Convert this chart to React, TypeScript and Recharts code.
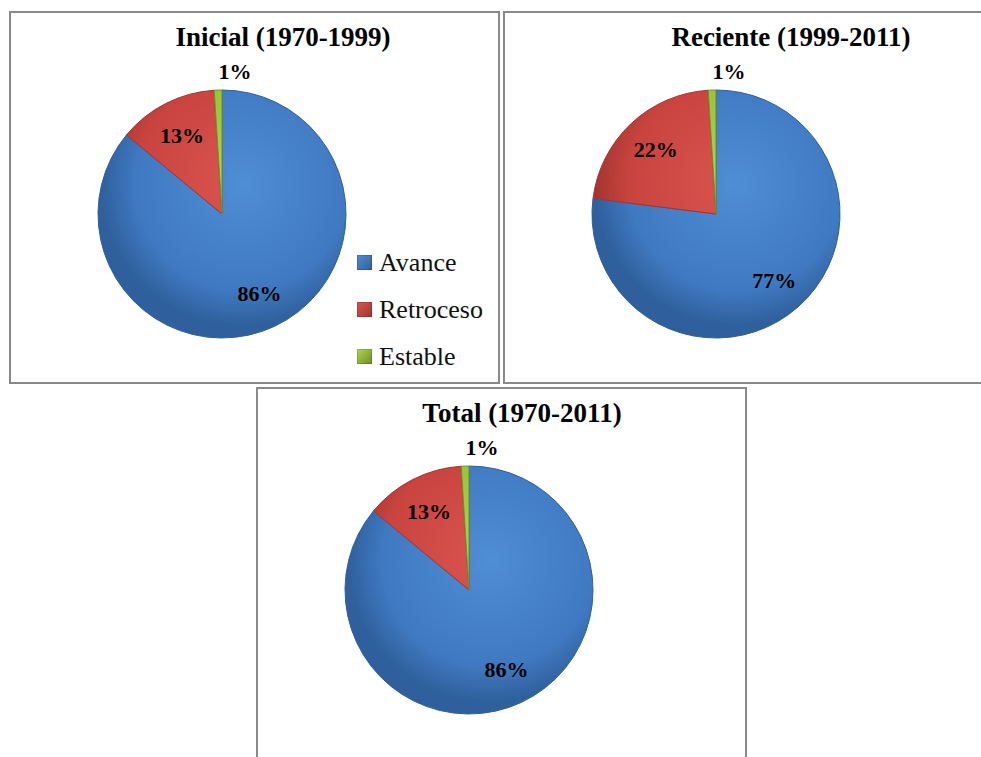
import { PieChart, Pie, Cell, Legend } from "recharts";

const categories = ["Avance", "Retroceso", "Estable"];
const inicialValues = [86, 13, 1];
const recienteValues = [77, 22, 1];
const totalValues = [86, 13, 1];
const titles = ["Inicial (1970-1999)", "Reciente (1999-2011)", "Total (1970-2011)"];

// light / dark pairs for the glossy fills
const shades = [
  { light: "#4f8dd4", mid: "#3f79c1", dark: "#2f5f9c" },
  { light: "#d9554e", mid: "#c9443f", dark: "#a33430" },
  { light: "#b0d64e", mid: "#98c03b", dark: "#6f8f28" },
];

const serif = "Liberation Serif";
const RAD = Math.PI / 180;

const toRows = (values: number[]) =>
  categories.map((name, i) => ({ name, value: values[i] }));

// big slices get the label inside, tiny ones just above the rim
function renderPct(props: any) {
  const { cx, cy, midAngle, outerRadius, value } = props;
  const outside = value < 5;
  const r = outside ? outerRadius + 19 : outerRadius * 0.71;
  const x = cx + r * Math.cos(-midAngle * RAD);
  const y = cy + r * Math.sin(-midAngle * RAD);
  return (
    <text
      x={outside ? x + 1 : x}
      y={y}
      textAnchor={outside ? "start" : "middle"}
      dominantBaseline="central"
      style={{ fontFamily: serif, fontWeight: 700, fontSize: 22 }}
      fill="#000"
    >
      {`${value}%`}
    </text>
  );
}

function LegendBox() {
  return (
    <div style={{ fontFamily: serif, fontSize: 26, color: "#111" }}>
      {categories.map((c, i) => (
        <div key={c} style={{ height: 47, display: "flex", alignItems: "center" }}>
          <span
            style={{
              width: 15,
              height: 15,
              marginRight: 7,
              background: `linear-gradient(135deg, ${shades[i].light}, ${shades[i].dark})`,
              boxShadow: "inset 0 0 0 1px rgba(0,0,0,0.15)",
            }}
          />
          <span>{c}</span>
        </div>
      ))}
    </div>
  );
}

type PanelProps = {
  id: string;
  title: string;
  titleX: number;
  values: number[];
  left: number;
  top: number;
  width: number;
  height: number;
  legend?: boolean;
};

function PiePanel({ id, title, titleX, values, left, top, width, height, legend }: PanelProps) {
  const cx = 211;
  const cy = 201;
  const r = 124;
  return (
    <div
      style={{
        position: "absolute",
        left,
        top,
        width,
        height,
        border: "2px solid #8a8a8a",
        boxSizing: "border-box",
        background: "#fff",
      }}
    >
      <PieChart
        width={width - 4}
        height={height - 4}
        margin={{ top: 0, right: 0, bottom: 0, left: 0 }}
      >
        <defs>
          {shades.map((s, i) => (
            <radialGradient
              key={i}
              id={`${id}-g${i}`}
              gradientUnits="userSpaceOnUse"
              cx={cx + 20}
              cy={cy - 30}
              r={r * 1.15}
            >
              <stop offset="0%" stopColor={s.light} />
              <stop offset="75%" stopColor={s.mid} />
              <stop offset="100%" stopColor={s.dark} />
            </radialGradient>
          ))}
        </defs>
        <text
          x={titleX}
          y={33}
          textAnchor="middle"
          style={{ fontFamily: serif, fontWeight: 700, fontSize: 27 }}
          fill="#000"
        >
          {title}
        </text>
        <Pie
          data={toRows(values)}
          dataKey="value"
          nameKey="name"
          cx={cx}
          cy={cy}
          outerRadius={r}
          startAngle={90}
          endAngle={-270}
          label={renderPct}
          labelLine={false}
          isAnimationActive={false}
        >
          {shades.map((s, i) => (
            <Cell key={i} fill={`url(#${id}-g${i})`} stroke={s.dark} strokeWidth={1} />
          ))}
        </Pie>
        {legend && (
          <Legend
            content={() => <LegendBox />}
            wrapperStyle={{ position: "absolute", left: 346, top: 226, width: 140 }}
          />
        )}
      </PieChart>
    </div>
  );
}

export default function App() {
  return (
    <div
      style={{
        position: "absolute",
        left: 0,
        top: 0,
        width: 981,
        height: 757,
        overflow: "hidden",
        background: "#fff",
      }}
    >
      <PiePanel id="ini" title={titles[0]} titleX={272} values={inicialValues} left={9} top={11} width={491} height={373} legend />
      <PiePanel id="rec" title={titles[1]} titleX={286} values={recienteValues} left={503} top={11} width={480} height={373} />
      <PiePanel id="tot" title={titles[2]} titleX={264} values={totalValues} left={256} top={387} width={491} height={374} />
    </div>
  );
}
